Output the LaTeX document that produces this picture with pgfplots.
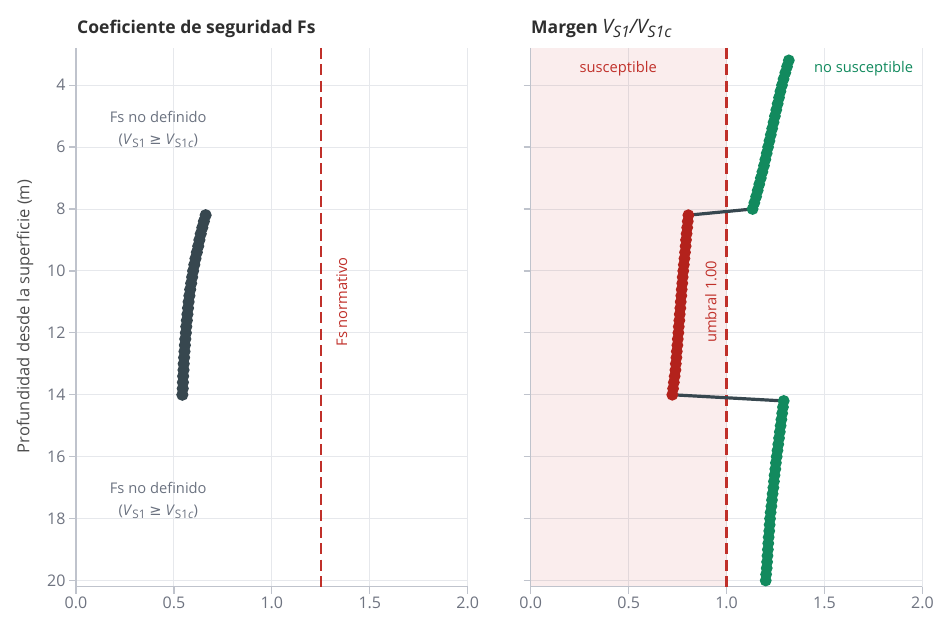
\documentclass[border=0pt]{standalone}
\usepackage{fontspec}
\setmainfont{Open Sans}
\newfontfamily\dejavu{DejaVu Sans}
\usepackage{pgfplots}
\pgfplotsset{compat=1.18}
\usepackage{pgfplotstable}
\definecolor{gridc}{HTML}{E6E8EC}
\definecolor{spine}{HTML}{BFC3CC}
\definecolor{tickc}{HTML}{6E7380}
\definecolor{darkl}{HTML}{37474F}
\definecolor{redm}{HTML}{B3221C}
\definecolor{greenm}{HTML}{128A5E}
\definecolor{redd}{HTML}{C0302A}
\definecolor{annot}{HTML}{6B7280}
\definecolor{titlec}{HTML}{2E2E2E}
\newcommand{\sub}[1]{\raisebox{-0.35ex}{\scalebox{0.8}{#1}}}

\pgfplotstableread{
d fs
8.2 0.662
8.4 0.653
8.6 0.645
8.8 0.637
9.0 0.630
9.2 0.624
9.4 0.617
9.6 0.610
9.8 0.604
10.0 0.598
10.2 0.593
10.4 0.588
10.6 0.583
10.8 0.579
11.0 0.575
11.2 0.572
11.4 0.569
11.6 0.566
11.8 0.563
12.0 0.561
12.2 0.558
12.4 0.556
12.6 0.554
12.8 0.552
13.0 0.550
13.2 0.549
13.4 0.547
13.6 0.546
13.8 0.545
14.0 0.543
}\fstab

\pgfplotstableread{
d m
3.2 1.318
3.4 1.309
3.6 1.300
3.8 1.291
4.0 1.283
4.2 1.275
4.4 1.268
4.6 1.261
4.8 1.254
5.0 1.247
5.2 1.240
5.4 1.233
5.6 1.226
5.8 1.219
6.0 1.212
6.2 1.205
6.4 1.198
6.6 1.191
6.8 1.183
7.0 1.175
7.2 1.167
7.4 1.159
7.6 1.151
7.8 1.142
8.0 1.133
}\greenA

\pgfplotstableread{
d m
8.2 0.805
8.4 0.802
8.6 0.799
8.8 0.796
9.0 0.793
9.2 0.791
9.4 0.788
9.6 0.785
9.8 0.782
10.0 0.779
10.2 0.776
10.4 0.774
10.6 0.771
10.8 0.769
11.0 0.766
11.2 0.764
11.4 0.761
11.6 0.759
11.8 0.756
12.0 0.754
12.2 0.751
12.4 0.749
12.6 0.746
12.8 0.744
13.0 0.741
13.2 0.739
13.4 0.735
13.6 0.731
13.8 0.727
14.0 0.723
}\redB

\pgfplotstableread{
d m
14.2 1.292
14.4 1.288
14.6 1.284
14.8 1.280
15.0 1.276
15.2 1.272
15.4 1.268
15.6 1.264
15.8 1.260
16.0 1.256
16.2 1.252
16.4 1.249
16.6 1.245
16.8 1.242
17.0 1.239
17.2 1.235
17.4 1.232
17.6 1.229
17.8 1.225
18.0 1.222
18.2 1.220
18.4 1.218
18.6 1.215
18.8 1.213
19.0 1.211
19.2 1.209
19.4 1.207
19.6 1.205
19.8 1.202
20.0 1.200
}\greenC

\pgfplotsset{
  panel/.style={
    scale only axis, anchor=south west,
    width=391.7pt, height=538.7pt,
    xmin=0, xmax=2, ymin=2.8, ymax=20.2, y dir=reverse,
    xtick={0,0.5,1,1.5,2}, ytick={4,6,...,20},
    xticklabel style={/pgf/number format/.cd, fixed, fixed zerofill, precision=1},
    /pgf/number format/assume math mode=true,
    ticklabel style={font=\fontsize{16}{18}\selectfont, text=tickc},
    grid=major, grid style={color=gridc, line width=0.9pt},
    axis line style={draw=none},
    tick style={color=spine, line width=1.2pt},
    major tick length=7pt, tick align=outside,
    xtick pos=bottom, ytick pos=left,
    clip=false,
  }
}

\begin{document}
\begin{tikzpicture}[x=1pt,y=1pt]
\useasboundingbox (0,0) rectangle (951,634);

% left panel
\begin{axis}[panel, at={(76pt,47.3pt)}]
\draw[spine, line width=1.5pt] (axis cs:0,2.8) -- (axis cs:0,20.2) -- (axis cs:2,20.2);
\addplot[redd, line width=2.2pt, dash pattern=on 11pt off 5.5pt] coordinates {(1.25,2.8) (1.25,20.2)};
\addplot[darkl, line width=2.8pt, mark=*, mark size=4.6pt, mark options={fill=darkl, draw=none}] table[x=fs, y=d] {\fstab};
\node[redd, rotate=90, font=\fontsize{14.7}{16}\selectfont] at (axis cs:1.357,11.0) {Fs normativo};
\node[annot, align=center, font=\fontsize{14.7}{22}\selectfont] at (axis cs:0.42,5.42) {Fs no definido\\(\textit{V}\sub{S1} {\dejavu ≥} \textit{V}\sub{S1\textit{c}})};
\node[annot, align=center, font=\fontsize{14.7}{22}\selectfont] at (axis cs:0.42,17.42) {Fs no definido\\(\textit{V}\sub{S1} {\dejavu ≥} \textit{V}\sub{S1\textit{c}})};
\end{axis}

% right panel
\begin{axis}[panel, at={(530.7pt,47.3pt)}, yticklabels={}]
\addplot[draw=none, fill=redd, fill opacity=0.085] coordinates {(0,2.8) (1,2.8) (1,20.2) (0,20.2)} -- cycle;
\draw[spine, line width=1.5pt] (axis cs:0,2.8) -- (axis cs:0,20.2) -- (axis cs:2,20.2);
\addplot[redd, line width=2.2pt, dash pattern=on 11pt off 5.5pt] coordinates {(1,2.8) (1,20.2)};
\addplot[darkl, line width=3.2pt] coordinates {(1.142,7.8) (1.133,8.0) (0.805,8.2) (0.802,8.4)};
\addplot[darkl, line width=3.2pt] coordinates {(0.727,13.8) (0.723,14.0) (1.292,14.2) (1.288,14.4)};
\addplot[greenm, line width=2.5pt, mark=*, mark size=4.6pt, mark options={fill=greenm, draw=none}] table[x=m, y=d] {\greenA};
\addplot[redm, line width=2.5pt, mark=*, mark size=4.6pt, mark options={fill=redm, draw=none}] table[x=m, y=d] {\redB};
\addplot[greenm, line width=2.5pt, mark=*, mark size=4.6pt, mark options={fill=greenm, draw=none}] table[x=m, y=d] {\greenC};
\node[redd, font=\fontsize{14.7}{16}\selectfont] at (axis cs:0.447,3.48) {susceptible};
\node[greenm, font=\fontsize{14.7}{16}\selectfont] at (axis cs:1.70,3.48) {no susceptible};
\node[redd, rotate=90, font=\fontsize{14.7}{16}\selectfont] at (axis cs:0.92,11.0) {umbral 1.00};
\end{axis}

% titles and y label
\node[anchor=base west, text=titlec, font=\fontsize{17.5}{20}\selectfont\bfseries, inner sep=0pt] at (77,600) {Coeficiente de seguridad Fs};
\node[anchor=base west, text=titlec, font=\fontsize{17.5}{20}\selectfont, inner sep=0pt] at (531,600) {\textbf{Margen} {\fontsize{19.8}{20}\selectfont\textit{V\sub{S1}/V\sub{S1c}}}};
\node[rotate=90, text=titlec!85, font=\fontsize{16.5}{18}\selectfont] at (25,317.5) {Profundidad desde la superficie (m)};
\end{tikzpicture}
\end{document}
